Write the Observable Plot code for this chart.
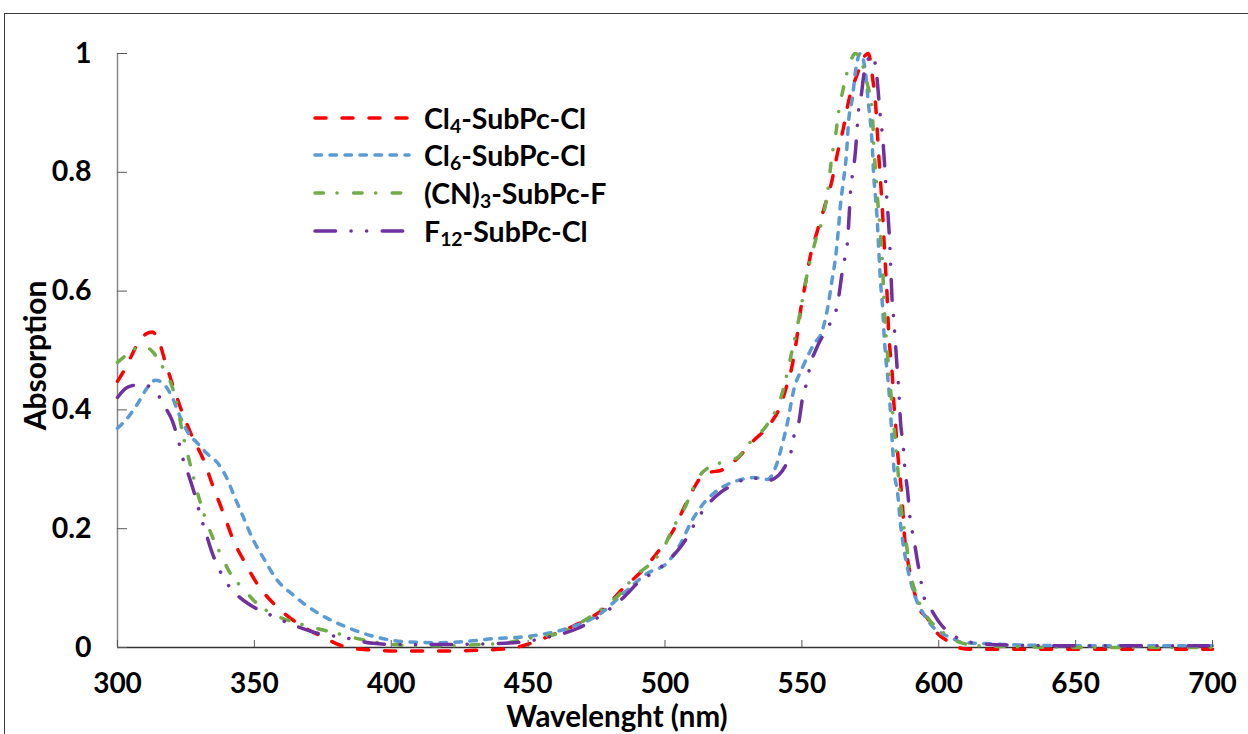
<!DOCTYPE html>
<html><head><meta charset="utf-8">
<script src="https://cdn.jsdelivr.net/npm/d3@7"></script>
<script src="https://cdn.jsdelivr.net/npm/@observablehq/plot@0.6"></script>
<style>
html,body{margin:0;padding:0;background:#fff;}
#wrap{position:relative;width:1248px;height:734px;overflow:hidden;font-family:Lato,"Open Sans",sans-serif;}
#border{position:absolute;left:4px;top:13px;width:1400px;height:900px;border-left:1px solid #3a3a3a;border-top:1px solid #3a3a3a;}
#chart{position:absolute;left:0;top:0;}
.leg{position:absolute;left:424px;font-weight:700;font-size:28.5px;line-height:30px;color:#000;white-space:nowrap;font-family:Lato,"Open Sans",sans-serif;}
.leg sub{font-size:0.68em;vertical-align:-0.22em;line-height:0;}
.legline{position:absolute;left:313px;}
</style></head><body><div id="wrap"><div id="border"></div><div id="chart"></div></div>
<script>
// ---- data ----
const seriesNames = ["Cl4-SubPc-Cl", "Cl6-SubPc-Cl", "(CN)3-SubPc-F", "F12-SubPc-Cl"];
const xTicks = [300, 350, 400, 450, 500, 550, 600, 650, 700];
const yTicks = [0, 0.2, 0.4, 0.6, 0.8, 1];
const xLabel = "Wavelenght (nm)";
const yLabel = "Absorption";

const cl4Nm  = [300,302,305,307.7,310.5,312.7,315,317.5,323,327.4,331.5,335,338.7,342.4,346.8,351.5,357,365.7,374,384,392,405,420,435,442.5,451,457,465.5,477.5,484.8,491.8,498.4,503,506.8,510.5,513,516.5,520.3,526.8,532.3,538.5,542,544,546.6,548.4,549.5,551.3,553,555.7,558.6,561,563,565.2,567,570.3,573.2,574.3,575.8,577,577.6,578.2,578.9,579.5,580,580.6,581.1,581.5,582.2,583,583.6,584.3,585,586,586.8,587.4,588.7,590.4,592.6,595.7,599.5,604.3,607,612,625,650,675,700];
const cl4Abs = [0.448,0.463,0.49,0.514,0.528,0.531,0.517,0.48,0.404,0.354,0.315,0.27,0.226,0.18,0.141,0.104,0.074,0.041,0.02,0.0,-0.004,-0.006,-0.006,-0.004,-0.002,0.007,0.018,0.034,0.065,0.1,0.13,0.167,0.197,0.234,0.268,0.286,0.295,0.298,0.32,0.348,0.377,0.405,0.433,0.478,0.529,0.567,0.613,0.657,0.702,0.747,0.786,0.832,0.875,0.918,0.966,0.997,1.0,0.96,0.91,0.865,0.82,0.774,0.73,0.685,0.635,0.596,0.55,0.5,0.461,0.412,0.37,0.327,0.281,0.236,0.192,0.146,0.108,0.068,0.05,0.024,0.008,0.0,-0.003,-0.003,-0.003,-0.003,-0.003];

const cl6Nm  = [300,303.6,307.3,311,313.9,316.8,320,323,326,329,332.8,336.5,339.4,343,346,349.7,353.4,358.4,364.3,368,370.5,376.7,385,395,404.5,417,431.5,437,446,455,465.5,476.4,484.8,493.6,500.9,505.7,509.3,513,519,526.5,532.3,537.4,540.5,543,544.8,547,550.2,554.3,557.5,559.7,561,562.3,563.4,564,565.2,566.3,567,568.5,569.6,571.4,573.3,574.3,575,575.8,576.2,576.9,577.6,578.1,578.7,579.5,580,580.6,581.6,582.4,583,583.6,585,586,587.2,589,591.5,594.4,598,601,604.3,609,615,631,650,675,700];
const cl6Abs = [0.369,0.386,0.41,0.438,0.45,0.444,0.421,0.387,0.36,0.345,0.326,0.311,0.29,0.251,0.219,0.18,0.15,0.113,0.088,0.074,0.066,0.049,0.032,0.017,0.01,0.008,0.012,0.015,0.017,0.022,0.034,0.057,0.091,0.125,0.143,0.175,0.209,0.236,0.264,0.281,0.286,0.283,0.305,0.345,0.38,0.433,0.471,0.51,0.534,0.579,0.618,0.657,0.707,0.741,0.786,0.832,0.882,0.926,0.971,1.0,0.966,0.916,0.887,0.837,0.798,0.758,0.714,0.668,0.618,0.572,0.529,0.49,0.444,0.394,0.348,0.303,0.259,0.209,0.168,0.125,0.084,0.057,0.034,0.024,0.017,0.008,0.007,0.004,0.003,0.003,0.003];

const cnNm  = [300,305.5,308.4,311,313,316.8,318.6,322,323.7,325.6,327.4,329.2,331.5,334.7,337.6,341.3,345.7,351,357.7,364.3,372,380,387.7,397,409.6,421.6,432,441,449.7,461.8,471.7,477.5,483.7,488.5,495.8,499.5,503,506.8,510.5,513.7,520.3,526.5,531,537.6,542,547,549,552,555,557.4,559.3,561.1,562.3,563.5,564.7,566.6,569.6,573.9,575.7,576.3,577,577.6,578.7,579.5,580,581.4,583,585,586,588,589.7,592.2,596,600.6,606.8,615,630,660,700];
const cnAbs = [0.48,0.5,0.508,0.505,0.497,0.47,0.455,0.404,0.362,0.326,0.293,0.261,0.226,0.186,0.158,0.124,0.1,0.074,0.054,0.043,0.033,0.024,0.015,0.007,0.003,0.003,0.005,0.007,0.015,0.025,0.049,0.067,0.091,0.118,0.146,0.168,0.202,0.231,0.27,0.295,0.311,0.32,0.345,0.377,0.416,0.512,0.556,0.63,0.685,0.719,0.764,0.831,0.862,0.904,0.932,0.969,1.0,0.949,0.904,0.842,0.798,0.758,0.697,0.64,0.584,0.487,0.404,0.303,0.247,0.18,0.125,0.084,0.05,0.029,0.01,0.003,0.001,0.0,0.0];

const f12Nm  = [300,303.6,309,314,317.5,320,322.6,324,326,328.5,330.3,332,334.7,337,340,343.8,348.6,354.8,362,367,373,382.6,393.5,403,421.6,433.8,447,457,468,477.5,484.8,489.9,498.4,504.6,508.6,511,514.8,520.3,525.8,531.2,537.4,541.5,544,546,547,549,550.2,552,553,555,559.4,562.3,563.4,565,566,566.7,567.1,567.8,568.9,569.6,570.3,570.7,571.8,572.5,574,575.8,577,577.6,578.1,578.7,579.5,580,580.4,581,581.8,582.1,582.5,583,583.5,584.2,585,585.4,586,587.1,587.5,588.6,589.7,590.8,592.2,593.3,594.4,597,600.6,605.4,612.7,625,650,675,700];
const f12Abs = [0.421,0.438,0.443,0.43,0.404,0.382,0.342,0.316,0.29,0.253,0.222,0.197,0.158,0.133,0.108,0.088,0.071,0.057,0.042,0.033,0.024,0.017,0.007,0.005,0.005,0.006,0.009,0.017,0.032,0.057,0.084,0.108,0.135,0.163,0.189,0.21,0.236,0.261,0.276,0.286,0.281,0.29,0.306,0.328,0.354,0.382,0.419,0.45,0.475,0.5,0.539,0.564,0.589,0.64,0.663,0.685,0.714,0.769,0.808,0.837,0.882,0.904,0.933,0.96,0.988,0.998,0.976,0.951,0.924,0.892,0.859,0.828,0.8,0.758,0.705,0.68,0.635,0.581,0.556,0.51,0.458,0.433,0.382,0.335,0.308,0.264,0.21,0.185,0.146,0.118,0.088,0.066,0.04,0.02,0.008,0.004,0.003,0.003,0.003];

const seriesColors = ["#FF0000", "#5B9BD5", "#70AD47", "#7030A0"];
const seriesDash = ["11,16", "6.5,8.5", "8.5,13.5,0.1,16.5", "20.5,15.5,0.1,15.5,0.1,15.5"];
const legendHtml = ["Cl<sub>4</sub>-SubPc-Cl", "Cl<sub>6</sub>-SubPc-Cl", "(CN)<sub>3</sub>-SubPc-F", "F<sub>12</sub>-SubPc-Cl"];

const seriesData = [[cl4Nm, cl4Abs], [cl6Nm, cl6Abs], [cnNm, cnAbs], [f12Nm, f12Abs]]
  .map(([nm, ab], i) => nm.map((x, j) => ({nm: x, abs: ab[j], s: seriesNames[i]})));

const lineMarks = seriesData.map((d, i) => Plot.line(d, {
  x: "nm", y: "abs", stroke: seriesColors[i], strokeWidth: 3.5,
  strokeDasharray: seriesDash[i], strokeLinecap: "round", strokeLinejoin: "round",
  curve: "monotone-x"
}));

const fmtY = d => d === 0 ? "0" : d === 1 ? "1" : String(d);

const chart = Plot.plot({
  width: 1248, height: 734,
  marginLeft: 117, marginRight: 36, marginTop: 53, marginBottom: 87,
  style: {fontFamily: "Lato, 'Open Sans', sans-serif", fontWeight: 700, fontSize: "28px", color: "#000", background: "transparent", overflow: "visible"},
  x: {domain: [300, 700]},
  y: {domain: [0, 1]},
  marks: [
    Plot.ruleX([300], {stroke: "#868686", strokeWidth: 1.5}),
    Plot.ruleY([0], {stroke: "#333", strokeWidth: 1.5}),
    ...lineMarks,
    Plot.axisX(xTicks, {tickSize: -7, tickPadding: 33, tickFormat: d => String(d), stroke: "#595959", fill: "#000", fontSize: 28, fontWeight: 700, label: null}),
    Plot.axisY(yTicks, {tickSize: -10, tickPadding: 36, tickFormat: fmtY, stroke: "#595959", fill: "#000", fontSize: 28.5, fontWeight: 700, label: null}),
    Plot.text([xLabel], {frameAnchor: "bottom", lineAnchor: "middle", textAnchor: "middle", dx: -48, dy: 70, fontSize: 29.5, fontWeight: 700, fill: "#000"}),
    Plot.text([yLabel], {frameAnchor: "left", lineAnchor: "middle", textAnchor: "middle", dx: -81, dy: 5, rotate: -90, fontSize: 30, fontWeight: 700, fill: "#000"})
  ]
});
document.getElementById("chart").appendChild(chart);

// legend
const wrap = document.getElementById("wrap");
const rowY = [118, 155, 193, 231];
seriesNames.forEach((n, i) => {
  const svg = d3.create("svg").attr("class", "legline").attr("width", 100).attr("height", 10)
    .style("top", (rowY[i] - 5) + "px");
  svg.append("line").attr("x1", 2).attr("x2", 96).attr("y1", 5).attr("y2", 5)
    .attr("stroke", seriesColors[i]).attr("stroke-width", 3.5)
    .attr("stroke-dasharray", seriesDash[i]).attr("stroke-linecap", "round");
  wrap.appendChild(svg.node());
  const t = document.createElement("div");
  t.className = "leg";
  t.style.top = (rowY[i] - 15) + "px";
  t.innerHTML = legendHtml[i];
  wrap.appendChild(t);
});
</script>
</body></html>
